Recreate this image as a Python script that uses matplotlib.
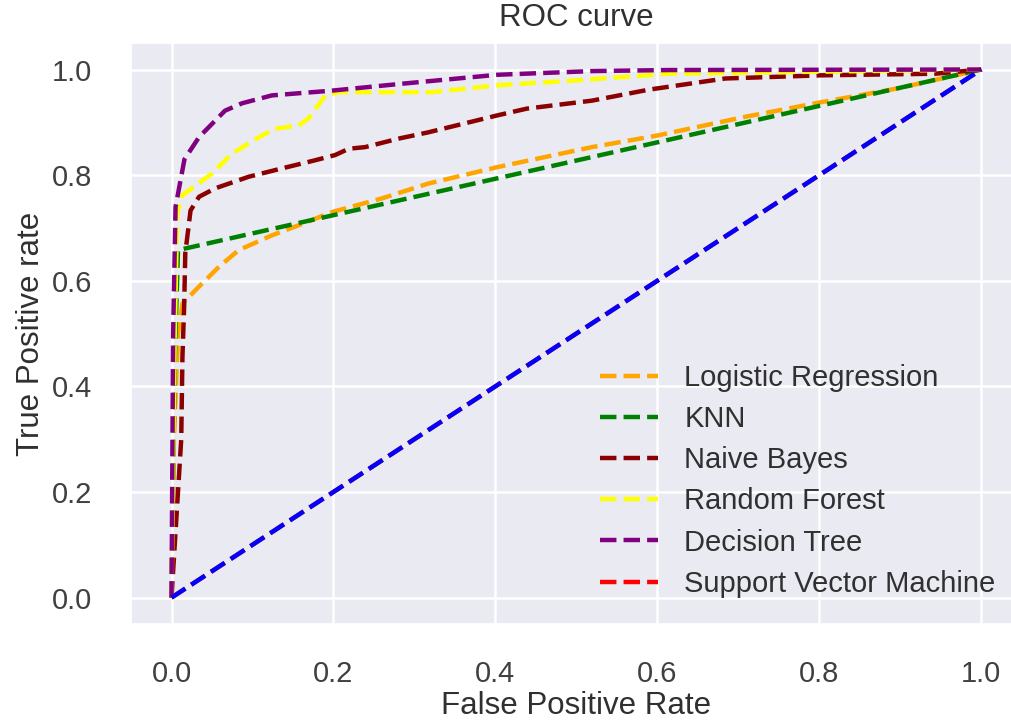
import matplotlib.pyplot as plt
import seaborn as sns

sns.set_theme(style='darkgrid')
plt.rcParams['font.family'] = ['Liberation Sans', 'DejaVu Sans']

# ROC points (fpr, tpr)
lr_fpr = [0.0, 0.003, 0.008, 0.0135, 0.034, 0.059, 0.083, 0.124, 0.157, 0.198, 0.26, 0.317,
          0.402, 0.519, 0.6, 0.707, 0.802, 0.896, 1.0]
lr_tpr = [0.0, 0.30, 0.50, 0.557, 0.589, 0.627, 0.658, 0.686, 0.705, 0.730, 0.756, 0.784,
          0.815, 0.853, 0.875, 0.910, 0.938, 0.964, 1.0]

knn_fpr = [0.0, 0.004, 0.008, 1.0]
knn_tpr = [0.0, 0.45, 0.658, 1.0]

nb_fpr = [0.0, 0.012, 0.0135, 0.0156, 0.017, 0.0235, 0.034, 0.054, 0.0955, 0.137, 0.177, 0.202,
          0.219, 0.239, 0.28, 0.317, 0.402, 0.439, 0.519, 0.59, 0.684, 0.802, 0.943, 1.0]
nb_tpr = [0.0, 0.30, 0.456, 0.551, 0.652, 0.733, 0.759, 0.775, 0.797, 0.813, 0.828, 0.838,
          0.850, 0.853, 0.869, 0.881, 0.913, 0.926, 0.941, 0.962, 0.983, 0.989, 0.992, 1.0]

rf_fpr = [0.0, 0.004, 0.007, 0.0135, 0.05, 0.075, 0.108, 0.128, 0.157, 0.169, 0.190, 0.206,
          0.321, 0.402, 0.496, 0.614, 0.755, 1.0]
rf_tpr = [0.0, 0.50, 0.728, 0.762, 0.803, 0.841, 0.872, 0.888, 0.894, 0.907, 0.951, 0.957,
          0.957, 0.970, 0.979, 0.992, 0.995, 1.0]

dt_fpr = [0.0, 0.002, 0.005, 0.016, 0.034, 0.066, 0.087, 0.124, 0.198, 0.284, 0.402, 0.519,
          0.614, 1.0]
dt_tpr = [0.0, 0.50, 0.74, 0.83, 0.872, 0.922, 0.936, 0.951, 0.960, 0.973, 0.990, 0.997,
          0.999, 1.0]

svm_fpr = [0.0, 1.0]
svm_tpr = [0.0, 1.0]

base_fpr = [0.0, 1.0]
base_tpr = [0.0, 1.0]

fig = plt.figure(figsize=(10.11, 7.27), dpi=100)
ax = fig.add_axes([0.1296, 0.1417, 0.881, 0.799])

lw = 3.2
ax.plot(lr_fpr, lr_tpr, linestyle='--', color='orange', lw=lw, label='Logistic Regression')
ax.plot(knn_fpr, knn_tpr, linestyle='--', color='green', lw=lw, label='KNN')
ax.plot(nb_fpr, nb_tpr, linestyle='--', color='darkred', lw=lw, label='Naive Bayes')
ax.plot(rf_fpr, rf_tpr, linestyle='--', color='yellow', lw=lw, label='Random Forest')
ax.plot(dt_fpr, dt_tpr, linestyle='--', color='purple', lw=lw, label='Decision Tree')
ax.plot(svm_fpr, svm_tpr, linestyle='--', color='red', lw=lw, label='Support Vector Machine')
ax.plot(base_fpr, base_tpr, linestyle='--', color='blue', lw=lw)

ax.set_xlim(-0.05, 1.05)
ax.set_ylim(-0.05, 1.05)
ax.grid(linewidth=1.8)
ax.tick_params(labelsize=21, colors='#404040')
ax.tick_params(axis='x', pad=20)
ax.tick_params(axis='y', pad=22)

ax.set_title('ROC curve', fontsize=22.5, pad=12, color='#303030')
ax.set_xlabel('False Positive Rate', fontsize=22.5, color='#303030', labelpad=2)
ax.set_ylabel('True Positive rate', fontsize=22.5, color='#303030')

ax.legend(loc='lower right', fontsize=21, frameon=False, handletextpad=0.9,
          labelspacing=0.45, labelcolor='#303030')

plt.savefig('out.png', dpi=100)
